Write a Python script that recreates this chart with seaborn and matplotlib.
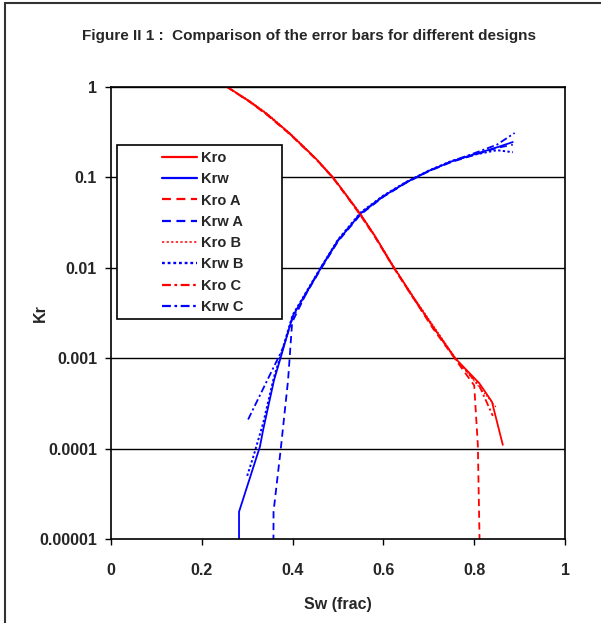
import numpy as np
import pandas as pd
import matplotlib
matplotlib.use("Agg")
import matplotlib.pyplot as plt
from matplotlib.patches import Rectangle
from matplotlib.lines import Line2D
from matplotlib.ticker import FixedLocator, FixedFormatter, NullLocator
import seaborn as sns

# ---------------- data ----------------
sw_kro = [0.256, 0.306, 0.344, 0.394, 0.432, 0.454, 0.489, 0.52, 0.548, 0.58, 0.621, 0.665, 0.71, 0.758, 0.811, 0.839, 0.863]
kro = [1.0, 0.69, 0.50, 0.305, 0.20, 0.156, 0.10, 0.062, 0.040, 0.023, 0.0105, 0.0048, 0.0022, 0.001, 0.00053, 0.00033, 0.00011]

sw_krw = [0.282, 0.282, 0.328, 0.335, 0.359, 0.372, 0.40, 0.43, 0.46, 0.50, 0.55, 0.60, 0.65, 0.70, 0.75, 0.80, 0.85, 0.885]
krw = [1e-7, 2e-5, 1.05e-4, 1.6e-4, 5.7e-4, 9.5e-4, 0.0029, 0.0053, 0.0095, 0.020, 0.040, 0.062, 0.088, 0.118, 0.150, 0.180, 0.215, 0.246]

sw_kro_a = [0.256, 0.306, 0.344, 0.394, 0.432, 0.454, 0.489, 0.52, 0.548, 0.58, 0.621, 0.665, 0.71, 0.758, 0.800, 0.808, 0.819]
kro_a = [1.0, 0.68, 0.49, 0.30, 0.197, 0.155, 0.098, 0.061, 0.039, 0.0225, 0.0103, 0.0047, 0.0021, 0.00098, 0.00050, 0.00011, 1e-7]

sw_krw_a = [0.357, 0.358, 0.374, 0.390, 0.399, 0.43, 0.46, 0.50, 0.55, 0.60, 0.65, 0.70, 0.75, 0.80, 0.85, 0.885]
krw_a = [1e-7, 2e-5, 1e-4, 5.7e-4, 0.0025, 0.0052, 0.0093, 0.0196, 0.039, 0.061, 0.087, 0.117, 0.148, 0.177, 0.212, 0.23]

sw_kro_b = [0.256, 0.306, 0.344, 0.394, 0.432, 0.454, 0.489, 0.52, 0.548, 0.58, 0.621, 0.665, 0.71, 0.758, 0.805, 0.850]
kro_b = [1.0, 0.70, 0.51, 0.31, 0.203, 0.158, 0.101, 0.063, 0.041, 0.0235, 0.0107, 0.0049, 0.0023, 0.00102, 0.00052, 0.00028]

sw_krw_b = [0.300, 0.313, 0.335, 0.359, 0.372, 0.40, 0.43, 0.46, 0.50, 0.55, 0.60, 0.65, 0.70, 0.75, 0.80, 0.85, 0.885]
krw_b = [5e-5, 8e-5, 1.9e-4, 6.2e-4, 1.0e-3, 0.0030, 0.0054, 0.0097, 0.0205, 0.041, 0.063, 0.089, 0.119, 0.152, 0.178, 0.20, 0.19]

sw_kro_c = [0.256, 0.306, 0.344, 0.394, 0.432, 0.454, 0.489, 0.52, 0.548, 0.58, 0.621, 0.665, 0.71, 0.758, 0.811, 0.841]
kro_c = [1.0, 0.685, 0.495, 0.303, 0.199, 0.154, 0.099, 0.0615, 0.0395, 0.0228, 0.0104, 0.0047, 0.0022, 0.00099, 0.00050, 0.00023]

sw_krw_c = [0.302, 0.379, 0.40, 0.43, 0.46, 0.50, 0.55, 0.60, 0.65, 0.70, 0.75, 0.80, 0.85, 0.889]
krw_c = [2.1e-4, 0.0013, 0.0028, 0.0052, 0.0096, 0.0202, 0.040, 0.062, 0.088, 0.118, 0.151, 0.185, 0.23, 0.31]

y_ticks = [1e-5, 1e-4, 1e-3, 1e-2, 1e-1, 1]
y_tick_labels = ["0.00001", "0.0001", "0.001", "0.01", "0.1", "1"]
x_ticks = [0, 0.2, 0.4, 0.6, 0.8, 1]
x_tick_labels = ["0", "0.2", "0.4", "0.6", "0.8", "1"]

series = [
    ("Kro", sw_kro, kro, "#FF0000", "-", 1.3),
    ("Krw", sw_krw, krw, "#0000FF", "-", 1.3),
    ("Kro A", sw_kro_a, kro_a, "#FF0000", (0, (4, 2.5)), 1.3),
    ("Krw A", sw_krw_a, krw_a, "#0000FF", (0, (4, 2.5)), 1.3),
    ("Kro B", sw_kro_b, kro_b, "#FF0000", (0, (1.5, 1.5)), 0.8),
    ("Krw B", sw_krw_b, krw_b, "#0000FF", (0, (1.2, 1.2)), 1.4),
    ("Kro C", sw_kro_c, kro_c, "#FF0000", (0, (4, 1.6, 1.2, 1.6)), 1.3),
    ("Krw C", sw_krw_c, krw_c, "#0000FF", (0, (4, 1.6, 1.2, 1.6)), 1.3),
]

# ---------------- figure ----------------
sns.set_style("white")
plt.rcParams["font.family"] = ["Liberation Sans", "DejaVu Sans"]
plt.rcParams["font.weight"] = "bold"

W, H = 601, 623
fig = plt.figure(figsize=(W / 100, H / 100), dpi=100)
ax = fig.add_axes([111 / W, 1 - 539 / H, (565 - 111) / W, (539 - 87) / H])

handles = []
for name, xs, ys, col, ls, lw in series:
    df = pd.DataFrame({"Sw": xs, "Kr": ys})
    sns.lineplot(data=df, x="Sw", y="Kr", ax=ax, color=col, linewidth=lw,
                 sort=False, estimator=None, legend=False)
    ln = ax.get_lines()[-1]
    ln.set_linestyle(ls)
    handles.append(Line2D([0], [0], color=col, linestyle=ls, linewidth=lw + 0.3, label=name))

ax.set_yscale("log")
ax.set_xlim(0, 1)
ax.set_ylim(1e-5, 1)
ax.yaxis.set_major_locator(FixedLocator(y_ticks))
ax.yaxis.set_major_formatter(FixedFormatter(y_tick_labels))
ax.yaxis.set_minor_locator(NullLocator())
ax.xaxis.set_major_locator(FixedLocator(x_ticks))
ax.xaxis.set_major_formatter(FixedFormatter(x_tick_labels))

for yv in y_ticks[1:]:
    ax.axhline(yv, color="black", linewidth=1.0, zorder=0)

for sp in ax.spines.values():
    sp.set_color("black")
    sp.set_linewidth(1.2)

ax.tick_params(axis="both", which="major", direction="out", length=4, width=1.0,
               color="black", labelsize=11.5, left=True, bottom=True)
for lab in ax.get_xticklabels() + ax.get_yticklabels():
    lab.set_fontweight("bold")
ax.tick_params(axis="x", pad=13)
ax.tick_params(axis="y", pad=6)

ax.set_xlabel("")
ax.set_ylabel("")
fig.text(338 / W, 1 - 605 / H, "Sw (frac)", ha="center", va="center",
         fontsize=11.5, fontweight="bold")
fig.text(40 / W, 1 - 313 / H, "Kr", ha="center", va="center", rotation=90,
         fontsize=11.5, fontweight="bold")
fig.text(309 / W, 1 - 36 / H, "Figure II 1 :  Comparison of the error bars for different designs",
         ha="center", va="center", fontsize=11, fontweight="bold")

# legend box (Excel style, drawn as a frame) + legend entries
fig.patches.append(Rectangle((117 / W, 1 - 319 / H), (282 - 117) / W, (319 - 145) / H,
                             transform=fig.transFigure, facecolor="white",
                             edgecolor="black", linewidth=1.2, zorder=5))
leg = fig.legend(handles=handles, loc="upper left",
                 bbox_to_anchor=(162 / W, 1 - 151 / H), frameon=False,
                 prop={"size": 10.5, "weight": "bold"}, handlelength=2.4,
                 handletextpad=0.3, labelspacing=0.5, borderpad=0.0,
                 borderaxespad=0.0)
leg.set_zorder(6)

# outer chart border (top and left visible)
fig.patches.append(Rectangle((5 / W, -0.05), 1.2, 1 - 3 / H + 0.05,
                             transform=fig.transFigure, facecolor="none",
                             edgecolor="#333333", linewidth=1.5, zorder=0))

fig.savefig("out.png", dpi=100)
